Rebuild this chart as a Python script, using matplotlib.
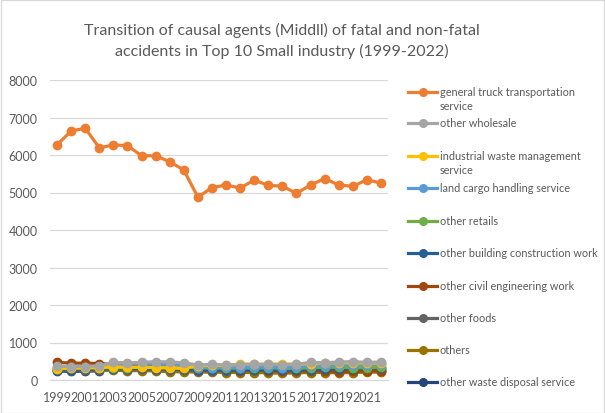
import matplotlib
matplotlib.use("Agg")
import matplotlib.pyplot as plt
from matplotlib.lines import Line2D
from matplotlib.patches import Rectangle

years = list(range(1999, 2023))

series_names = [
    "general truck transportation\nservice",
    "other wholesale",
    "industrial waste management\nservice",
    "land cargo handling service",
    "other retails",
    "other building construction work",
    "other civil engineering work",
    "other foods",
    "others",
    "other waste disposal service",
]

general_truck = [6270, 6640, 6715, 6190, 6270, 6250, 5980, 5980, 5820, 5600, 4875, 5130,
                 5200, 5120, 5330, 5190, 5170, 4975, 5200, 5370, 5200, 5165, 5340, 5250]
other_wholesale = [370, 360, 360, 380, 470, 460, 470, 490, 480, 460, 400, 420,
                   400, 410, 420, 420, 410, 420, 470, 460, 480, 490, 470, 480]
industrial_waste = [300, 310, 320, 330, 350, 340, 340, 330, 320, 310, 380, 390,
                    390, 430, 420, 420, 430, 420, 440, 450, 460, 460, 450, 450]
land_cargo = [330, 340, 330, 340, 400, 440, 430, 430, 420, 400, 330, 330,
              340, 330, 340, 350, 330, 340, 370, 380, 400, 400, 410, 420]
other_retails = [310, 330, 340, 330, 330, 330, 340, 350, 360, 360, 320, 330,
                 310, 320, 320, 330, 310, 310, 330, 340, 340, 330, 330, 340]
other_building = [280, 280, 290, 300, 300, 310, 310, 300, 290, 300, 270, 270,
                  260, 270, 260, 270, 260, 260, 280, 290, 300, 300, 310, 320]
other_civil = [470, 450, 450, 440, 420, 380, 370, 360, 340, 320, 280, 260,
               260, 250, 260, 250, 240, 240, 240, 230, 220, 230, 240, 250]
other_foods = [260, 270, 270, 270, 290, 280, 290, 280, 280, 270, 240, 250,
               250, 250, 260, 260, 250, 260, 260, 270, 280, 280, 280, 290]
others = [280, 280, 270, 270, 260, 250, 250, 240, 220, 220, 210, 210,
          200, 200, 200, 190, 180, 190, 200, 200, 190, 200, 210, 210]
other_waste_disposal = [240, 230, 235, 245, 290, 300, 290, 270, 260, 290, 230, 240,
                        230, 230, 240, 235, 225, 235, 220, 210, 230, 245, 250, 240]

all_values = [general_truck, other_wholesale, industrial_waste, land_cargo, other_retails,
              other_building, other_civil, other_foods, others, other_waste_disposal]

colors = ["#ED7D31", "#A5A5A5", "#FFC000", "#5B9BD5", "#70AD47",
          "#255E91", "#9E480E", "#636363", "#997300", "#264478"]

title = "Transition of causal agents (Middll) of fatal and non-fatal\naccidents in Top 10 Small industry (1999-2022)"
yticks = [0, 1000, 2000, 3000, 4000, 5000, 6000, 7000, 8000]
xtick_years = list(range(1999, 2022, 2))

W, H = 605, 414
fig = plt.figure(figsize=(W / 100, H / 100), dpi=100)
plt.rcParams['font.family'] = ['Lato', 'DejaVu Sans']
txt_color = "#595959"

# chart border
fig.add_artist(Rectangle((0.5 / W, 0.5 / H), 1 - 1.5 / W, 1 - 1.5 / H, transform=fig.transFigure,
                         fill=False, edgecolor="#D9D9D9", linewidth=0.9))

left, right, top, bottom = 50, 388, 81, 381
ax = fig.add_axes([left / W, 1 - bottom / H, (right - left) / W, (bottom - top) / H])

n = len(all_values)
for i in range(n - 1, -1, -1):
    ax.plot(years, all_values[i], color=colors[i], linewidth=2.3, marker='o', markersize=6,
            zorder=20 if i == 0 else 3 + (n - i))

ax.set_xlim(1998.5, 2022.5)
ax.set_ylim(0, 8000)
ax.set_yticks(yticks)
ax.set_yticklabels([str(v) for v in yticks])
ax.set_xticks(xtick_years)
ax.set_xticklabels([str(y) for y in xtick_years])
ax.tick_params(axis='both', length=0, labelsize=9, labelcolor=txt_color)
ax.tick_params(axis='y', pad=9)
ax.tick_params(axis='x', pad=8)
ax.grid(axis='y', color="#D9D9D9", linewidth=0.9, zorder=0)
ax.set_axisbelow(True)
for s in ["top", "right", "left"]:
    ax.spines[s].set_visible(False)
ax.spines["bottom"].set_color("#D9D9D9")
ax.spines["bottom"].set_linewidth(0.9)

fig.text(282 / W, 1 - 41 / H, title, ha='center', va='center', fontsize=11.5,
         color=txt_color, linespacing=1.45)

# legend
leg_y = [92.7, 124.3, 157.3, 189, 221.7, 253.7, 286.7, 318.7, 351, 383.3]
for name, c, yy in zip(series_names, colors, leg_y):
    fy = 1 - yy / H
    fig.add_artist(Line2D([408 / W, 437 / W], [fy, fy], transform=fig.transFigure,
                          color=c, linewidth=2.3))
    fig.add_artist(Line2D([422.5 / W], [fy], transform=fig.transFigure, color=c,
                          marker='o', markersize=5.5))
    fig.text(440 / W, fy + 6 / H, name, ha='left', va='top', fontsize=7.8,
             color=txt_color, linespacing=1.35)

fig.savefig("out.png", dpi=100)
